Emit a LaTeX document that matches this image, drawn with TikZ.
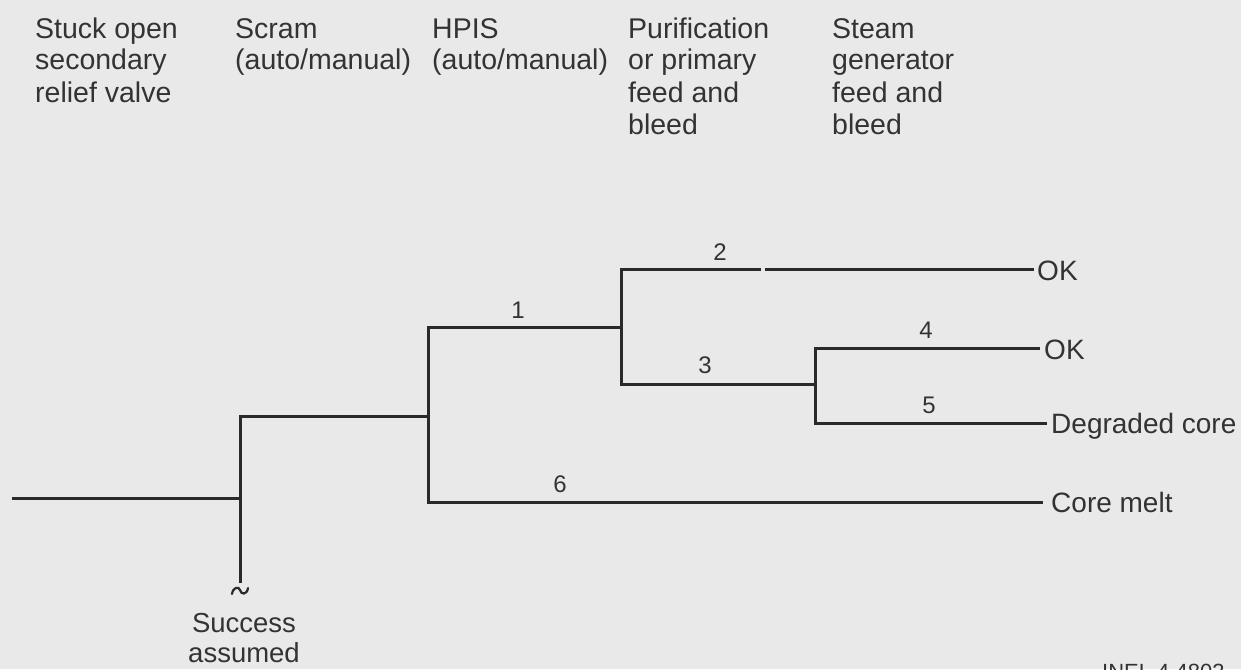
\documentclass[tikz,border=0pt]{standalone}
\usepackage{fontspec}
\setmainfont{Liberation Sans}
\definecolor{bg}{HTML}{E9E9E9}
\definecolor{ink}{HTML}{333333}
\definecolor{wire}{HTML}{2A2A2A}
\begin{document}
\begin{tikzpicture}[x=1pt,y=-1pt,
  hd/.style={anchor=base west,inner sep=0pt,text=ink,font=\fontsize{28.5}{32}\selectfont},
  endlbl/.style={anchor=base west,inner sep=0pt,text=ink,font=\fontsize{28}{32}\selectfont},
  num/.style={anchor=base,inner sep=0pt,text=ink,font=\fontsize{24}{28}\selectfont},
  ctr/.style={anchor=base,inner sep=0pt,text=ink,font=\fontsize{27.5}{32}\selectfont},
  br/.style={draw=wire,line width=3pt,line cap=rect}]
\fill[bg] (0,0) rectangle (1241,669);
\useasboundingbox (0,0) rectangle (1241,669);

% headers
\node[hd] (h1a) at (35,38) {Stuck open};
\node[hd] (h1b) at (35,70) {secondary};
\node[hd] (h1c) at (35,102) {relief valve};
\node[hd] (h2a) at (235,38) {Scram};
\node[hd] (h2b) at (235,70) {(auto/manual)};
\node[hd] (h3a) at (432,38) {HPIS};
\node[hd] (h3b) at (432,70) {(auto/manual)};
\node[hd] (h4a) at (628,38) {Purification};
\node[hd] (h4b) at (628,70) {or primary};
\node[hd] (h4c) at (628,102) {feed and};
\node[hd] (h4d) at (628,134) {bleed};
\node[hd] (h5a) at (832,38) {Steam};
\node[hd] (h5b) at (832,70) {generator};
\node[hd] (h5c) at (832,102) {feed and};
\node[hd] (h5d) at (832,134) {bleed};

% junction coordinates
\coordinate (s0) at (13,498);
\coordinate (js) at (240,498);
\coordinate (jsT) at (240,416);
\coordinate (jsB) at (240,583);
\coordinate (jh) at (428,416);
\coordinate (jhT) at (428,327);
\coordinate (jhB) at (428,502);
\coordinate (jp) at (621,327);
\coordinate (jpT) at (621,269);
\coordinate (jpB) at (621,384);
\coordinate (jg) at (815,384);
\coordinate (jgT) at (815,348);
\coordinate (jgB) at (815,423);
\coordinate (gap1) at (759,269);
\coordinate (gap2) at (766,269);

% end labels
\node[endlbl] (ok1) at (1037,280) {OK};
\node[endlbl] (ok2) at (1044,359) {OK};
\node[endlbl] (deg) at (1051,433) {Degraded core};
\node[endlbl] (melt) at (1051,512) {Core melt};

% tree
\draw[br] (s0) -- (js);
\draw[br,line cap=butt] (jsT) -- (jsB);
\draw[br] (jsT) -- (jh);
\draw[br,line cap=butt] (jhT) -- (jhB);
\draw[br] (jhT) -- (jp);
\draw[br,line cap=butt] (jpT) -- (jpB);
\draw[br] (jpT) -- (gap1);
\draw[br] (gap2) -- ([xshift=-5pt]jpT -| ok1.west);
\draw[br] (jpB) -- (jg);
\draw[br,line cap=butt] (jgT) -- (jgB);
\draw[br] (jgT) -- ([xshift=-6pt]jgT -| ok2.west);
\draw[br] (jgB) -- ([xshift=-6pt]jgB -| deg.west);
\draw[br] (jhB) -- ([xshift=-10pt]jhB -| melt.west);

% tilde below the end of the scram line
\draw[draw=wire,line width=2.2pt,line cap=round]
  ([xshift=-8pt,yshift=-11pt]jsB) .. controls ([xshift=-7pt,yshift=-4pt]jsB) and ([xshift=-1pt,yshift=-3pt]jsB) .. ([yshift=-7pt]jsB)
  .. controls ([xshift=1pt,yshift=-12pt]jsB) and ([xshift=7pt,yshift=-12pt]jsB) .. ([xshift=8pt,yshift=-5pt]jsB);

% branch numbers
\node[num] (n1) at (518,318) {1};
\node[num] (n2) at (720,260) {2};
\node[num] (n3) at (705,373) {3};
\node[num] (n4) at (926,338) {4};
\node[num] (n5) at (929,413) {5};
\node[num] (n6) at (560,492) {6};

% success assumed
\node[ctr] (sa1) at (244,632) {Success};
\node[ctr] (sa2) at (244,662) {assumed};

% figure id (cut at page edge, as in the reference)
\node[anchor=base west,inner sep=0pt,text=ink,font=\fontsize{22}{26}\selectfont] (fid) at (1102,679) {INEL 4 4803};
\end{tikzpicture}
\end{document}
